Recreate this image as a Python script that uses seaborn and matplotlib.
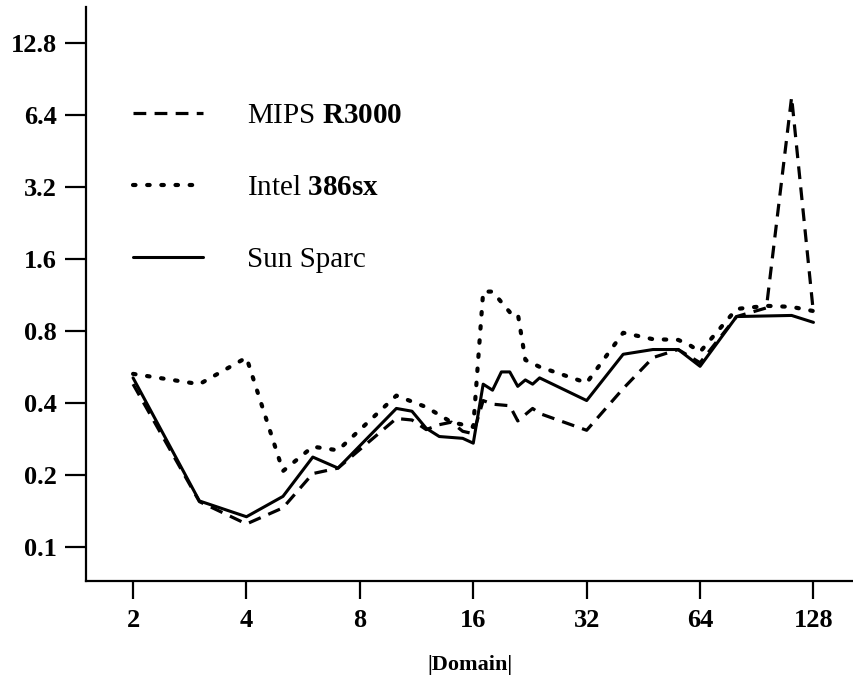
import matplotlib
matplotlib.use("Agg")
import matplotlib.pyplot as plt
import seaborn as sns
import pandas as pd
from matplotlib.ticker import FixedLocator, FixedFormatter, NullLocator

# ---- data ----
mips_x = [2, 3, 4, 5, 6, 7, 10, 11, 12, 13, 14, 15, 16, 17, 18, 20, 21, 23, 24,
          32, 40, 48, 56, 64, 80, 96, 112, 128]
mips_y = [0.48, 0.155, 0.125, 0.146, 0.203, 0.214, 0.345, 0.34, 0.31, 0.325, 0.333,
          0.305, 0.298, 0.41, 0.396, 0.39, 0.337, 0.38, 0.362,
          0.308, 0.46, 0.62, 0.67, 0.59, 0.92, 1.0, 7.6, 0.95]

intel_x = [2, 3, 4, 5, 6, 7, 10, 12, 14, 16, 17, 18, 20, 21, 22, 24,
           32, 40, 48, 56, 60, 64, 80, 96, 112, 128]
intel_y = [0.53, 0.48, 0.62, 0.208, 0.263, 0.254, 0.43, 0.385, 0.333, 0.318, 1.17, 1.17,
           0.96, 0.95, 0.606, 0.567, 0.486, 0.787, 0.74, 0.735, 0.70, 0.655,
           0.99, 1.02, 1.01, 0.97]

sun_x = [2, 3, 4, 5, 6, 7, 10, 11, 12, 13, 15, 16, 17, 18, 19, 20, 21, 22, 23, 24,
         32, 40, 48, 56, 64, 80, 112, 128]
sun_y = [0.51, 0.156, 0.134, 0.163, 0.238, 0.214, 0.38, 0.37, 0.314, 0.29, 0.285, 0.272,
         0.48, 0.453, 0.54, 0.54, 0.47, 0.50, 0.48, 0.51,
         0.41, 0.64, 0.67, 0.67, 0.57, 0.92, 0.93, 0.87]

series_names = ["MIPS R3000", "Intel 386sx", "Sun Sparc"]
legend_labels = ["MIPS $\\mathbf{R3000}$", "Intel $\\mathbf{386sx}$", "Sun Sparc"]
x_ticks = [2, 4, 8, 16, 32, 64, 128]
x_tick_labels = ["2", "4", "8", "16", "32", "64", "128"]
y_ticks = [0.1, 0.2, 0.4, 0.8, 1.6, 3.2, 6.4, 12.8]
y_tick_labels = ["0.1", "0.2", "0.4", "0.8", "1.6", "3.2", "6.4", "12.8"]
x_label = "|Domain|"

sns.set_theme(style="white")
plt.rcParams["font.family"] = ["Liberation Serif", "DejaVu Serif"]
plt.rcParams["mathtext.fontset"] = "custom"
plt.rcParams["mathtext.rm"] = "Liberation Serif"
plt.rcParams["mathtext.bf"] = "Liberation Serif:bold"
plt.rcParams["text.color"] = "black"
plt.rcParams["axes.labelcolor"] = "black"
plt.rcParams["xtick.color"] = "black"
plt.rcParams["ytick.color"] = "black"

fig = plt.figure(figsize=(8.54, 6.93), dpi=100)
ax = fig.add_axes([86 / 854, (693 - 581) / 693, (853 - 86) / 854, (581 - 7) / 693])

datasets = [(mips_x, mips_y), (intel_x, intel_y), (sun_x, sun_y)]
styles = [
    dict(linestyle=(0, (4.0, 2.6)), linewidth=2.3, dash_capstyle="butt"),
    dict(linestyle=(0, (0.6, 2.8)), linewidth=3.0, dash_capstyle="round"),
    dict(linestyle="-", linewidth=2.2),
]
for name, lab, (xs, ys), st in zip(series_names, legend_labels, datasets, styles):
    df = pd.DataFrame({"x": xs, "y": ys, "series": name})
    sns.lineplot(data=df, x="x", y="y", ax=ax, color="black", label=lab,
                 estimator=None, sort=False, **st)

ax.set_xscale("log", base=2)
ax.set_yscale("log", base=2)
ax.set_xlim(1.5, 163)
ax.set_ylim(0.0722, 18.1)

ax.xaxis.set_major_locator(FixedLocator(x_ticks))
ax.xaxis.set_major_formatter(FixedFormatter(x_tick_labels))
ax.yaxis.set_major_locator(FixedLocator(y_ticks))
ax.yaxis.set_major_formatter(FixedFormatter(y_tick_labels))
ax.xaxis.set_minor_locator(NullLocator())
ax.yaxis.set_minor_locator(NullLocator())

for s in ["top", "right"]:
    ax.spines[s].set_visible(False)
for s in ["left", "bottom"]:
    ax.spines[s].set_color("black")
    ax.spines[s].set_linewidth(1.6)

ax.tick_params(axis="y", which="major", direction="out", length=15, width=1.6,
               color="black", labelcolor="black", pad=6, labelsize=19, left=True)
ax.tick_params(axis="x", which="major", direction="out", length=13, width=1.6,
               color="black", labelcolor="black", pad=7, labelsize=19, bottom=True)
for lab in ax.get_xticklabels() + ax.get_yticklabels():
    lab.set_fontweight("bold")

ax.set_xlabel(x_label, fontsize=16, fontweight="bold", labelpad=17, color="black")
ax.set_ylabel("")

leg = ax.legend(loc="upper left", bbox_to_anchor=(0.046, 0.854), frameon=False,
                fontsize=21, handlelength=2.4, handletextpad=1.5, labelspacing=1.56,
                borderaxespad=0)
for line in leg.get_lines():
    line.set_color("black")
for t in leg.get_texts():
    t.set_color("black")

fig.savefig("out.png", dpi=100)
